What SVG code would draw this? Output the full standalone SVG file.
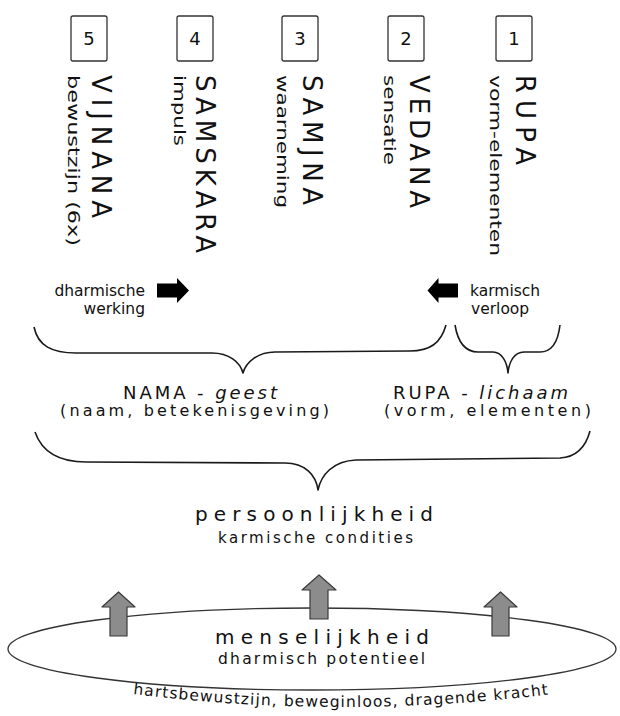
<svg xmlns="http://www.w3.org/2000/svg" width="620" height="716" viewBox="0 0 620 716">
<style>
text{font-family:"DejaVu Sans","Liberation Sans",sans-serif;fill:#111}
.box{fill:#fff;stroke:#333;stroke-width:1.3}
.num{font-size:18px;text-anchor:middle}
.main{font-size:26px}
.sub{font-size:16px}
.brace{fill:none;stroke:#1a1a1a;stroke-width:1.6;stroke-linejoin:round}
.blk{fill:#000}
.up{fill:#8c8c8c;stroke:#3a3a3a;stroke-width:1.2;stroke-linejoin:round}
.lab{font-size:15.5px}
.it{font-style:italic}
</style>
<rect width="620" height="716" fill="#fff"/>

<g id="skandha5">
<rect class="box" x="71" y="16" width="36" height="45" rx="2"/>
<text class="num" x="89" y="45">5</text>
<text class="main" transform="translate(92,75) rotate(90)" textLength="143" lengthAdjust="spacing">VIJNANA</text>
<text class="sub" transform="translate(68,75) rotate(90)" textLength="171" lengthAdjust="spacingAndGlyphs">bewustzijn (6x)</text>
</g>
<g id="skandha4">
<rect class="box" x="177" y="16" width="36" height="45" rx="2"/>
<text class="num" x="195" y="45">4</text>
<text class="main" transform="translate(195.5,75) rotate(90)" textLength="178" lengthAdjust="spacing">SAMSKARA</text>
<text class="sub" transform="translate(174,75) rotate(90)" textLength="71" lengthAdjust="spacingAndGlyphs">impuls</text>
</g>
<g id="skandha3">
<rect class="box" x="282" y="16" width="36" height="45" rx="2"/>
<text class="num" x="300" y="45">3</text>
<text class="main" transform="translate(302.5,75) rotate(90)" textLength="130" lengthAdjust="spacing">SAMJNA</text>
<text class="sub" transform="translate(277,75) rotate(90)" textLength="133" lengthAdjust="spacingAndGlyphs">waarneming</text>
</g>
<g id="skandha2">
<rect class="box" x="388" y="16" width="36" height="45" rx="2"/>
<text class="num" x="406" y="45">2</text>
<text class="main" transform="translate(409.5,75) rotate(90)" textLength="133" lengthAdjust="spacing">VEDANA</text>
<text class="sub" transform="translate(384,75) rotate(90)" textLength="90" lengthAdjust="spacingAndGlyphs">sensatie</text>
</g>
<g id="skandha1">
<rect class="box" x="496" y="16" width="36" height="45" rx="2"/>
<text class="num" x="514" y="45">1</text>
<text class="main" transform="translate(515.5,75) rotate(90)" textLength="90" lengthAdjust="spacing">RUPA</text>
<text class="sub" transform="translate(490,75) rotate(90)" textLength="181" lengthAdjust="spacingAndGlyphs">vorm-elementen</text>
</g>

<g id="dharmische">
<text class="lab" x="145" y="296" text-anchor="end">dharmische</text>
<text class="lab" x="145" y="314" text-anchor="end">werking</text>
<polygon class="blk" points="157,283.5 177,283.5 177,278 189,290.5 177,303 177,297.5 157,297.5"/>
</g>
<g id="karmisch">
<text class="lab" x="470" y="296">karmisch</text>
<text class="lab" x="471" y="314">verloop</text>
<polygon class="blk" points="458,283.5 438.5,283.5 438.5,278 427.5,290.5 438.5,303 438.5,297.5 458,297.5"/>
</g>

<g id="connectors">
<path class="brace" d="M34,327 C38,346 52,353 76,353 L212,353 C229,353 240,362 243,373 C246,362 258,352 275,352 L410,351 C430,351 441,343 446,325"/>
<path class="brace" d="M455,325 C458,343 465,352 478,352 L493,352 C502,352 507,362 508,373 C509,362 514,352 524,352 L540,352 C552,352 558,342 560,325"/>
<path class="brace" d="M35,432 C42,452 58,462 86,462 L285,463 C305,463 316,475 318,490 C321,475 333,461 356,460 L560,458 C578,457 586,446 590,431"/>
</g>

<g id="nama">
<text x="123" y="399" font-size="18" textLength="154" lengthAdjust="spacing">NAMA - <tspan class="it">geest</tspan></text>
<text x="60" y="416" font-size="16" textLength="269" lengthAdjust="spacing">(naam, betekenisgeving)</text>
</g>
<g id="rupa">
<text x="393" y="399" font-size="18" textLength="175" lengthAdjust="spacing">RUPA - <tspan class="it">lichaam</tspan></text>
<text x="384" y="416" font-size="16" textLength="207" lengthAdjust="spacing">(vorm, elementen)</text>
</g>
<g id="persoonlijkheid">
<text x="195" y="521" font-size="20" textLength="238" lengthAdjust="spacing">persoonlijkheid</text>
<text x="218" y="543" font-size="15" textLength="195" lengthAdjust="spacing">karmische condities</text>
</g>

<g id="menselijkheid">
<ellipse cx="312" cy="649" rx="304" ry="41" fill="none" stroke="#333" stroke-width="1.3"/>
<text x="215" y="644" font-size="20" textLength="214" lengthAdjust="spacing">menselijkheid</text>
<text x="218" y="664" font-size="15.5" textLength="207" lengthAdjust="spacing">dharmisch potentieel</text>
<path id="arc" d="M133,694 Q340,720 552,694" fill="none"/>
<text font-size="15.5" letter-spacing="1.1"><textPath href="#arc">hartsbewustzijn, beweginloos, dragende kracht</textPath></text>
</g>

<g id="uparrows">
<polygon class="up" points="110,636 110,607 102,607 118.5,592 135,607 127,607 127,636"/>
<polygon class="up" points="310,619 310,590 302,590 319,575 336,590 328,590 328,619"/>
<polygon class="up" points="492,636 492,607 484,607 500.5,592 517,607 509,607 509,636"/>
</g>
</svg>
